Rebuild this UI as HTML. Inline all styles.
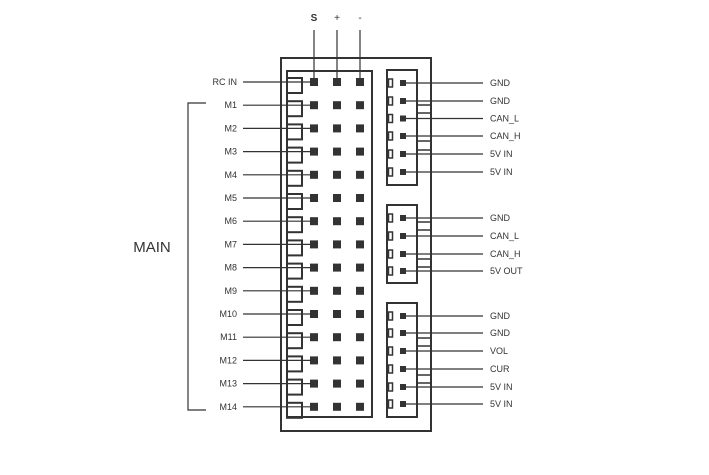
<!DOCTYPE html>
<html><head><style>
html,body{margin:0;padding:0;background:#fff;}
svg{display:block;}
text{font-family:"Liberation Sans",sans-serif;font-size:9px;fill:#333;}
</style></head><body>
<svg width="709" height="475" viewBox="0 0 709 475" xmlns="http://www.w3.org/2000/svg">
<g fill="none" stroke="#333">
<rect x="281" y="58" width="150" height="373" stroke-width="2"/>
<rect x="287" y="71" width="85" height="346" stroke-width="2"/>
<!-- right boxes -->
<rect x="387" y="70" width="30" height="115" stroke-width="2"/>
<rect x="417" y="105" width="14" height="8" stroke-width="1.5"/>
<rect x="417" y="141" width="14" height="9" stroke-width="1.5"/>
<rect x="387" y="205" width="30" height="78" stroke-width="2"/>
<rect x="417" y="222" width="14" height="8" stroke-width="1.5"/>
<rect x="417" y="259" width="14" height="8" stroke-width="1.5"/>
<rect x="387" y="303" width="30" height="114" stroke-width="2"/>
<rect x="417" y="338" width="14" height="8" stroke-width="1.5"/>
<rect x="417" y="375" width="14" height="8" stroke-width="1.5"/>
<!-- top lines -->
<line x1="314" y1="30" x2="314" y2="82" stroke-width="1.2"/>
<line x1="337" y1="30" x2="337" y2="82" stroke-width="1.2"/>
<line x1="360" y1="30" x2="360" y2="82" stroke-width="1.2"/>
<!-- MAIN bracket -->
<polyline points="206,103 188,103 188,410 206,410" stroke-width="1.2"/>
</g>
<text x="314" y="21" text-anchor="middle" font-weight="bold" style="font-size:10px">S</text>
<text x="337" y="21" text-anchor="middle" style="font-size:10px">+</text>
<text x="360" y="21" text-anchor="middle" style="font-size:10px">-</text>
<text x="152" y="252" text-anchor="middle" style="font-size:15px">MAIN</text>
<g id="left"></g>
<g id="right"></g>
<script>
var ns="http://www.w3.org/2000/svg";
function el(t,a,p,txt){var e=document.createElementNS(ns,t);for(var k in a)e.setAttribute(k,a[k]);if(txt)e.textContent=txt;document.getElementById(p).appendChild(e);}
var L=["RC IN","M1","M2","M3","M4","M5","M6","M7","M8","M9","M10","M11","M12","M13","M14"];
for(var i=0;i<15;i++){var y=82+i*23.2;
el("rect",{x:287,y:y-4,width:15,height:15,fill:"none",stroke:"#333","stroke-width":2},"left");
el("line",{x1:243,y1:y,x2:314,y2:y,stroke:"#333","stroke-width":1.2},"left");
[314,337,360].forEach(function(x){el("rect",{x:x-4,y:y-4,width:8,height:8,fill:"#333"},"left");});
el("text",{x:237,y:y+3,"text-anchor":"end"},"left",L[i]);}
var R=[[83,"GND"],[101,"GND"],[118.5,"CAN_L"],[136,"CAN_H"],[154,"5V IN"],[172,"5V IN"],
[218,"GND"],[236,"CAN_L"],[254,"CAN_H"],[271,"5V OUT"],
[316,"GND"],[333,"GND"],[351,"VOL"],[369,"CUR"],[387,"5V IN"],[404,"5V IN"]];
R.forEach(function(r){var y=r[0];
el("rect",{x:388.5,y:y-4,width:4,height:8,fill:"none",stroke:"#333","stroke-width":1.5},"right");
el("rect",{x:400,y:y-3,width:6,height:6,fill:"#333"},"right");
el("line",{x1:403,y1:y,x2:483,y2:y,stroke:"#333","stroke-width":1.2},"right");
el("text",{x:490,y:y+3},"right",r[1]);});
</script>
</svg>
</body></html>
